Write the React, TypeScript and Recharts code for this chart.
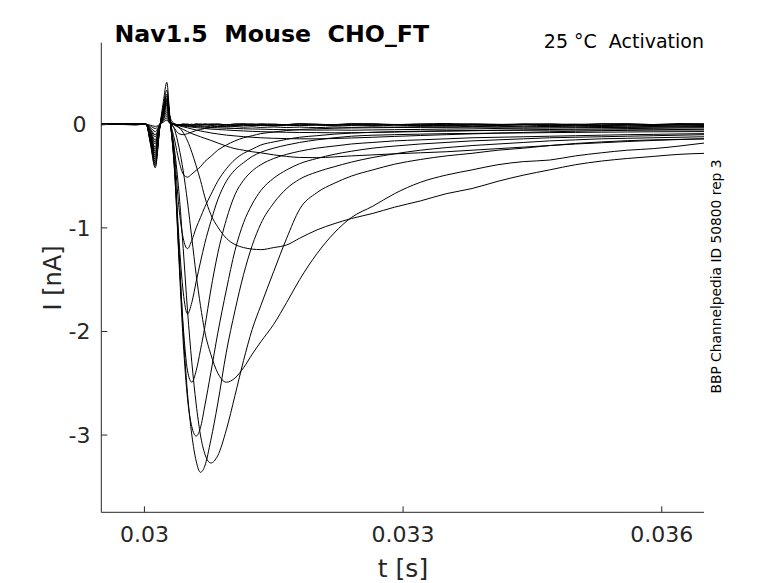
import React from 'react';
import { LineChart, Line, XAxis, YAxis } from 'recharts';

// time grid in ms
const T_MS = [29.5, 29.9, 30.02, 30.07, 30.125, 30.18, 30.22, 30.26, 30.3, 30.35,
  30.4, 30.45, 30.5, 30.55, 30.6, 30.65, 30.7, 30.77, 30.85, 30.95,
  31.05, 31.15, 31.25, 31.35, 31.5, 31.65, 31.8, 32.0, 32.2, 32.4,
  32.65, 32.9, 33.2, 33.5, 33.8, 34.1, 34.4, 34.7, 35.0, 35.3,
  35.6, 35.9, 36.2, 36.5];

// current traces (nA), one per voltage step
const SWEEP_01 = [0.004, -0.004, 0, -0.009, -0.02, -0.001, 0.022, 0.04, 0.006, 0.002,
  -0.004, 0.003, 0, -0.005, 0.003, 0.001, -0.004, 0.004, 0, -0.005,
  0.003, 0, 0.005, -0.003, 0.002, -0.004, 0.004, 0, -0.005, 0.003,
  0.006, -0.002, 0.001, -0.004, 0.005, 0, -0.003, 0.004, -0.002, 0.003,
  0.006, -0.003, 0.002, 0.004];
const SWEEP_02 = [-0.003, 0.003, 0, -0.018, -0.04, -0.002, 0.033, 0.06, 0.009, 0.001,
  -0.006, 0.002, -0.003, 0.001, -0.006, 0.002, -0.002, -0.007, 0.001, -0.004,
  -0.008, 0, -0.005, 0.002, -0.006, -0.002, 0.003, -0.007, -0.003, 0.001,
  -0.006, -0.001, -0.008, 0.001, -0.004, -0.007, 0, -0.005, 0.002, -0.006,
  -0.002, -0.008, 0, -0.004];
const SWEEP_03 = [0.002, -0.002, 0, -0.031, -0.07, -0.004, 0.044, 0.08, 0.012, 0,
  -0.005, -0.008, -0.004, -0.01, -0.006, -0.012, -0.005, -0.01, -0.015, -0.008,
  -0.012, -0.006, -0.014, -0.01, -0.016, -0.009, -0.013, -0.007, -0.015, -0.011,
  -0.006, -0.014, -0.01, -0.016, -0.008, -0.012, -0.006, -0.013, -0.009, -0.015,
  -0.008, -0.012, -0.006, -0.01];
const SWEEP_04 = [-0.002, 0.002, 0, -0.045, -0.1, -0.005, 0.055, 0.1, 0.015, -0.002,
  -0.006, -0.01, -0.012, -0.016, -0.014, -0.02, -0.018, -0.024, -0.02, -0.026,
  -0.022, -0.028, -0.024, -0.03, -0.026, -0.031, -0.027, -0.032, -0.026, -0.03,
  -0.024, -0.029, -0.022, -0.026, -0.02, -0.024, -0.018, -0.022, -0.017, -0.021,
  -0.016, -0.02, -0.015, -0.018];
const SWEEP_05 = [0.003, -0.003, 0, -0.054, -0.12, -0.006, 0.066, 0.12, 0.018, -0.002,
  -0.008, -0.012, -0.016, -0.02, -0.022, -0.026, -0.028, -0.032, -0.034, -0.038,
  -0.04, -0.043, -0.045, -0.047, -0.05, -0.052, -0.054, -0.056, -0.055, -0.057,
  -0.054, -0.052, -0.049, -0.046, -0.044, -0.04, -0.038, -0.036, -0.033, -0.031,
  -0.03, -0.027, -0.026, -0.024];
const SWEEP_06 = [-0.002, 0.002, 0, -0.068, -0.15, -0.008, 0.077, 0.14, 0.021, -0.004,
  -0.01, -0.016, -0.022, -0.027, -0.032, -0.036, -0.04, -0.046, -0.05, -0.055,
  -0.06, -0.064, -0.068, -0.071, -0.074, -0.077, -0.079, -0.08, -0.082, -0.081,
  -0.078, -0.075, -0.07, -0.066, -0.062, -0.058, -0.054, -0.05, -0.047, -0.044,
  -0.041, -0.039, -0.036, -0.034];
const SWEEP_07 = [0.002, -0.002, 0, -0.077, -0.17, -0.009, 0.088, 0.16, 0.024, -0.005,
  -0.014, -0.024, -0.034, -0.045, -0.055, -0.064, -0.072, -0.083, -0.093, -0.104,
  -0.112, -0.119, -0.125, -0.13, -0.135, -0.138, -0.14, -0.14, -0.137, -0.132,
  -0.125, -0.117, -0.108, -0.1, -0.092, -0.085, -0.078, -0.072, -0.067, -0.062,
  -0.058, -0.054, -0.05, -0.047];
const SWEEP_08 = [0.003, -0.003, 0, -0.085, -0.19, -0.01, 0.1, 0.18, 0.027, -0.01,
  -0.03, -0.05, -0.07, -0.09, -0.105, -0.12, -0.135, -0.155, -0.18, -0.21,
  -0.235, -0.25, -0.265, -0.275, -0.295, -0.31, -0.32, -0.322, -0.315, -0.305,
  -0.295, -0.285, -0.275, -0.265, -0.25, -0.235, -0.22, -0.205, -0.19, -0.178,
  -0.166, -0.156, -0.147, -0.14];
const SWEEP_09 = [-0.003, 0.003, 0, -0.1, -0.22, -0.011, 0.105, 0.19, 0.028, 0,
  -0.03, -0.08, -0.16, -0.27, -0.4, -0.54, -0.7, -0.87, -0.99, -1.1,
  -1.16, -1.19, -1.205, -1.21, -1.19, -1.165, -1.1, -1.02, -0.96, -0.91,
  -0.86, -0.8, -0.74, -0.67, -0.62, -0.55, -0.49, -0.44, -0.39, -0.355,
  -0.33, -0.31, -0.29, -0.28];
const SWEEP_10 = [0.002, -0.002, 0, -0.11, -0.24, -0.012, 0.11, 0.2, 0.03, -0.05,
  -0.22, -0.45, -0.75, -1.1, -1.45, -1.75, -2.0, -2.22, -2.4, -2.49,
  -2.45, -2.35, -2.22, -2.1, -1.93, -1.72, -1.5, -1.25, -1.05, -0.9,
  -0.79, -0.67, -0.56, -0.49, -0.44, -0.39, -0.36, -0.345, -0.305, -0.275,
  -0.25, -0.235, -0.21, -0.18];
const SWEEP_11 = [-0.002, 0.002, 0, -0.12, -0.26, -0.013, 0.115, 0.21, 0.03, -0.25,
  -0.65, -1.2, -1.8, -2.3, -2.7, -3.0, -3.18, -3.27, -3.2, -2.95,
  -2.62, -2.28, -1.98, -1.75, -1.42, -1.1, -0.82, -0.66, -0.57, -0.5,
  -0.44, -0.385, -0.34, -0.305, -0.28, -0.25, -0.23, -0.205, -0.185, -0.17,
  -0.158, -0.15, -0.145, -0.14];
const SWEEP_12 = [0.003, -0.003, 0, -0.125, -0.28, -0.014, 0.12, 0.22, 0.02, -0.4,
  -1.2, -2.0, -2.6, -3.0, -3.25, -3.36, -3.3, -3.05, -2.7, -2.2,
  -1.8, -1.45, -1.17, -0.96, -0.76, -0.62, -0.53, -0.46, -0.41, -0.365,
  -0.32, -0.285, -0.25, -0.225, -0.205, -0.19, -0.175, -0.16, -0.15, -0.14,
  -0.135, -0.13, -0.125, -0.12];
const SWEEP_13 = [-0.002, 0.002, 0, -0.135, -0.3, -0.015, 0.125, 0.23, 0.02, -0.45,
  -1.3, -2.1, -2.65, -2.92, -3.01, -2.93, -2.72, -2.4, -2.02, -1.6,
  -1.22, -0.95, -0.77, -0.64, -0.52, -0.44, -0.38, -0.33, -0.29, -0.26,
  -0.23, -0.21, -0.19, -0.175, -0.16, -0.15, -0.14, -0.13, -0.125, -0.12,
  -0.115, -0.11, -0.105, -0.1];
const SWEEP_14 = [0.002, -0.002, 0, -0.145, -0.32, -0.016, 0.13, 0.24, 0.02, -0.45,
  -1.25, -1.95, -2.38, -2.49, -2.38, -2.18, -1.96, -1.6, -1.25, -0.92,
  -0.68, -0.54, -0.45, -0.39, -0.33, -0.29, -0.26, -0.23, -0.21, -0.19,
  -0.175, -0.16, -0.15, -0.14, -0.13, -0.125, -0.12, -0.115, -0.11, -0.105,
  -0.1, -0.097, -0.093, -0.09];
const SWEEP_15 = [-0.003, 0.003, 0, -0.155, -0.34, -0.017, 0.14, 0.25, 0.02, -0.4,
  -1.1, -1.62, -1.83, -1.72, -1.52, -1.33, -1.15, -0.94, -0.73, -0.55,
  -0.44, -0.37, -0.31, -0.27, -0.23, -0.2, -0.175, -0.15, -0.13, -0.115,
  -0.105, -0.1, -0.095, -0.09, -0.088, -0.085, -0.083, -0.08, -0.078, -0.076,
  -0.074, -0.072, -0.071, -0.07];
const SWEEP_16 = [0.002, -0.002, 0, -0.16, -0.36, -0.018, 0.15, 0.27, 0.025, -0.3,
  -0.8, -1.1, -1.2, -1.12, -1.0, -0.9, -0.8, -0.68, -0.55, -0.43,
  -0.34, -0.28, -0.24, -0.2, -0.17, -0.145, -0.125, -0.11, -0.095, -0.085,
  -0.077, -0.071, -0.066, -0.062, -0.06, -0.058, -0.057, -0.056, -0.055, -0.055,
  -0.054, -0.054, -0.055, -0.055];
const SWEEP_17 = [-0.002, 0.002, 0, -0.17, -0.38, -0.019, 0.16, 0.29, 0.03, -0.15,
  -0.35, -0.48, -0.51, -0.48, -0.445, -0.41, -0.36, -0.31, -0.25, -0.2,
  -0.16, -0.13, -0.11, -0.09, -0.075, -0.06, -0.05, -0.043, -0.038, -0.035,
  -0.033, -0.031, -0.03, -0.029, -0.028, -0.027, -0.027, -0.026, -0.026, -0.025,
  -0.025, -0.025, -0.024, -0.024];
const SWEEP_18 = [0.003, -0.003, 0, -0.18, -0.4, -0.02, 0.18, 0.33, 0.04, -0.04,
  -0.09, -0.1, -0.09, -0.075, -0.06, -0.05, -0.04, -0.032, -0.025, -0.02,
  -0.016, -0.013, -0.01, -0.008, -0.012, -0.006, -0.01, -0.004, -0.009, -0.005,
  -0.011, -0.003, -0.008, -0.012, -0.004, -0.009, -0.002, -0.01, -0.006, -0.011,
  -0.003, -0.008, -0.005, -0.01];
const SWEEP_19 = [-0.003, 0.003, 0, -0.19, -0.42, -0.02, 0.22, 0.405, 0.06, 0.005,
  -0.01, -0.005, 0.002, -0.006, 0.004, -0.003, 0.005, -0.002, 0.003, -0.005,
  0.002, 0.006, -0.003, 0.004, 0, -0.004, 0.005, 0.001, -0.003, 0.006,
  0.002, -0.004, 0.004, 0.008, 0, -0.003, 0.005, 0.002, -0.004, 0.006,
  0.003, -0.002, 0.007, 0.004];

const SWEEPS = [SWEEP_01, SWEEP_02, SWEEP_03, SWEEP_04, SWEEP_05, SWEEP_06, SWEEP_07,
  SWEEP_08, SWEEP_09, SWEEP_10, SWEEP_11, SWEEP_12, SWEEP_13, SWEEP_14, SWEEP_15,
  SWEEP_16, SWEEP_17, SWEEP_18, SWEEP_19];

const X_TICKS = [0.03, 0.033, 0.036];
const X_TICK_LABELS = ['0.03', '0.033', '0.036'];
const Y_TICKS = [-3, -2, -1, 0];
const Y_TICK_LABELS = ['-3', '-2', '-1', '0'];

const TITLE = 'Nav1.5  Mouse  CHO_FT';
const SUBTITLE = '25 °C  Activation';
const SIDE_NOTE = 'BBP Channelpedia ID 50800 rep 3';
const X_LABEL = 't [s]';
const Y_LABEL = 'I [nA]';

const W = 770;
const H = 575;
const PLOT_LEFT = 93.3;
const PLOT_RIGHT = 696;
const PLOT_TOP = 34.7;
const PLOT_BOTTOM = 504.3;
const YAXIS_W = 60;
const XAXIS_H = 40;
const AX = '#262626';
const FONT = '"DejaVu Sans", sans-serif';

const seriesData = SWEEPS.map((s) => T_MS.map((t, i) => ({ t: t / 1000, v: s[i] })));

const XTick = (props: any) => {
  const { x, payload } = props;
  return (
    <g>
      <line x1={x} x2={x} y1={PLOT_BOTTOM} y2={PLOT_BOTTOM - 6} stroke={AX} strokeWidth={1} />
      <text x={x} y={PLOT_BOTTOM + 29.4} textAnchor="middle" fontFamily={FONT} fontSize={22} fill={AX}>
        {X_TICK_LABELS[X_TICKS.indexOf(payload.value)] ?? String(payload.value)}
      </text>
    </g>
  );
};

const YTick = (props: any) => {
  const { y, payload } = props;
  return (
    <g>
      <line x1={PLOT_LEFT} x2={PLOT_LEFT + 6} y1={y} y2={y} stroke={AX} strokeWidth={1} />
      <text x={PLOT_LEFT - 21.8} y={y} dy="0.36em" textAnchor="middle" fontFamily={FONT} fontSize={22} fill={AX}>
        {Y_TICK_LABELS[Y_TICKS.indexOf(payload.value)] ?? String(payload.value)}
      </text>
    </g>
  );
};

export default function App() {
  return (
    <div style={{ position: 'relative', width: W, height: H, background: '#fff' }}>
      <LineChart
        width={W}
        height={H}
        margin={{
          top: PLOT_TOP,
          right: W - PLOT_RIGHT,
          left: PLOT_LEFT - YAXIS_W,
          bottom: H - PLOT_BOTTOM - XAXIS_H,
        }}
      >
        <XAxis
          dataKey="t"
          type="number"
          domain={[0.0295, 0.03649]}
          allowDataOverflow
          ticks={X_TICKS}
          tick={<XTick />}
          tickLine={false}
          tickSize={6}
          tickMargin={2}
          height={XAXIS_H}
          axisLine={{ stroke: AX, strokeWidth: 1 }}
          interval={0}
        />
        <YAxis
          type="number"
          domain={[-3.746, 0.788]}
          allowDataOverflow
          ticks={Y_TICKS}
          tick={<YTick />}
          tickLine={false}
          width={YAXIS_W}
          axisLine={{ stroke: AX, strokeWidth: 1 }}
          interval={0}
        />
        {seriesData.map((d, i) => (
          <Line
            key={i}
            data={d}
            dataKey="v"
            type="monotone"
            stroke="#000"
            strokeWidth={1}
            dot={false}
            activeDot={false}
            isAnimationActive={false}
          />
        ))}
      </LineChart>
      <svg
        width={W}
        height={H}
        style={{ position: 'absolute', left: 0, top: 0, pointerEvents: 'none' }}
      >
        <text x={106.5} y={33.7} fontFamily={FONT} fontWeight="bold" fontSize={23.7} fill="#000" style={{ whiteSpace: 'pre' }}>
          {TITLE}
        </text>
        <text x={696} y={39.5} textAnchor="end" fontFamily={FONT} fontSize={19} fill="#000" style={{ whiteSpace: 'pre' }}>
          {SUBTITLE}
        </text>
        <text
          x={708}
          y={268.5}
          textAnchor="middle"
          dominantBaseline="central"
          fontFamily={FONT}
          fontSize={13.8}
          fill="#000"
          transform="rotate(-90 708 268.5)"
        >
          {SIDE_NOTE}
        </text>
        <text x={395} y={569} textAnchor="middle" fontFamily={FONT} fontSize={25} fill={AX}>
          {X_LABEL}
        </text>
        <text
          x={53}
          y={270}
          textAnchor="middle"
          fontFamily={FONT}
          fontSize={24}
          fill={AX}
          transform="rotate(-90 53 270)"
        >
          {Y_LABEL}
        </text>
      </svg>
    </div>
  );
}
